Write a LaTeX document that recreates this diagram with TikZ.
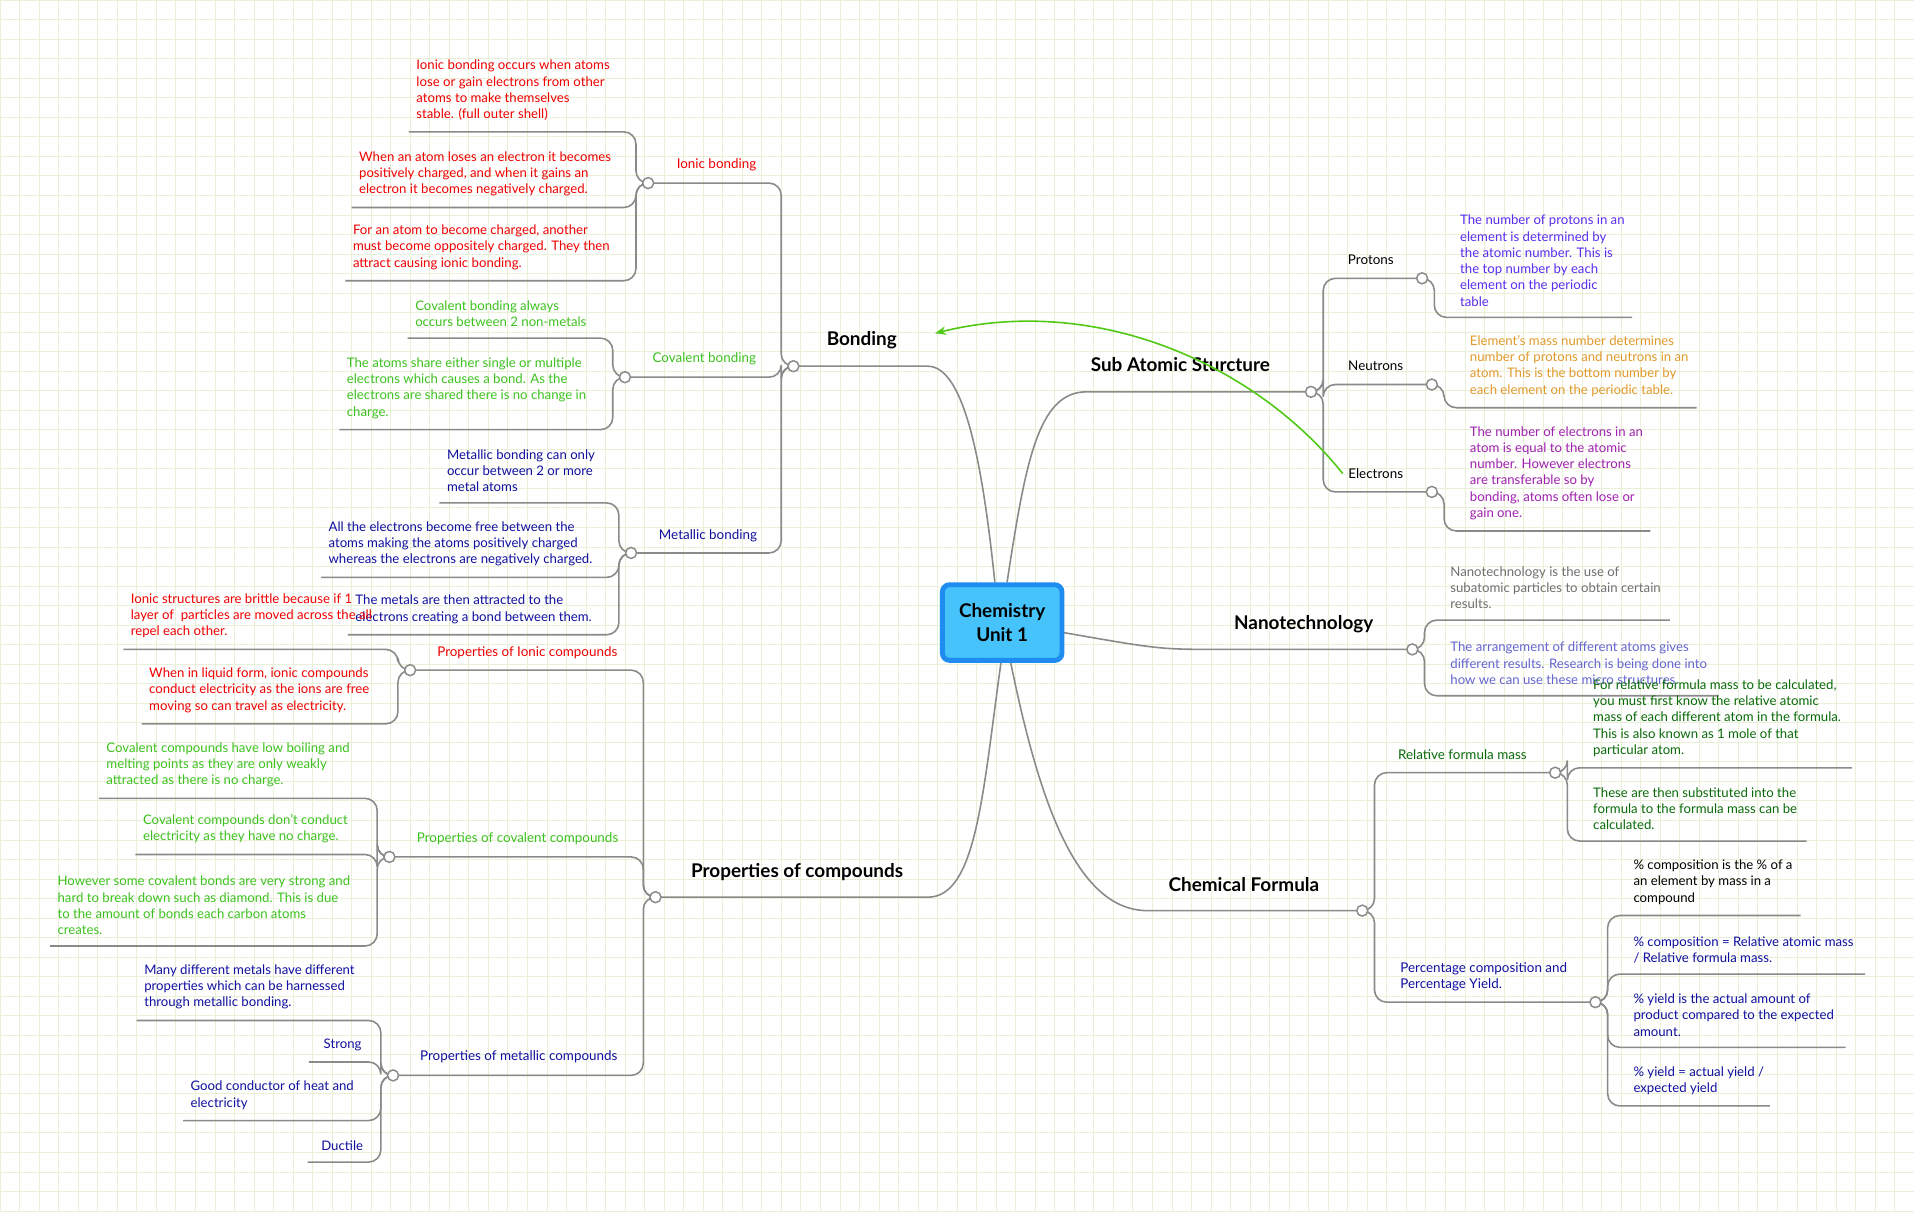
\documentclass[tikz,border=0pt]{standalone}
\usepackage{fontspec}
\setmainfont{Lato}
\usetikzlibrary{arrows.meta}
\definecolor{cred}{HTML}{F00000}
\definecolor{cgreen}{HTML}{3CC21E}
\definecolor{cblue}{HTML}{1010A0}
\definecolor{cdgreen}{HTML}{0A6A0A}
\definecolor{cprot}{HTML}{5A2DF0}
\definecolor{cneut}{HTML}{E09A2A}
\definecolor{celec}{HTML}{A020B0}
\definecolor{cgray}{HTML}{707070}
\definecolor{cslate}{HTML}{6464D2}
\definecolor{lineg}{HTML}{8A8A8A}
\definecolor{gridc}{HTML}{EAF0D8}
\tikzset{
 br/.style={draw=lineg,line width=1.3pt,rounded corners=10pt},
 leaf/.style={font=\fontsize{10.8}{13.3}\selectfont,align=left,inner sep=0pt},
 sub/.style={font=\fontsize{11}{13.3}\selectfont,inner sep=0pt,align=left},
 main/.style={font=\bfseries\fontsize{15.5}{17}\selectfont,inner sep=0pt},
 knob/.style={circle,draw=lineg,fill=white,line width=1.2pt,minimum size=9pt,inner sep=0pt}
}
\newcommand\leafL[6]{%
 \draw[br] (#1,#2) -- (#1-10,#2) -- (#1-10,#3) -- (#4,#3);
 \node[leaf,text=#5,anchor=south west] at (#4+6,#3-9) {#6};}
\newcommand\leafR[6]{%
 \draw[br] (#1,#2) -- (#1+10,#2) -- (#1+10,#3) -- (#4,#3);
 \node[leaf,text=#5,anchor=south west] at (#1+31,#3-9) {#6};}
\newcommand\brL[4]{\draw[br] (#1,#2) -- (#1-10,#2) -- (#1-10,#4) -- (#3,#4);}
\newcommand\brR[4]{\draw[br] (#1,#2) -- (#1+10,#2) -- (#1+10,#4) -- (#3,#4);}
\begin{document}
\begin{tikzpicture}[x=1pt,y=-1pt]
\useasboundingbox (0,0) rectangle (1568,993);
\fill[white] (0,0) rectangle (1568,993);
\foreach \i in {0,16,...,1568} \draw[gridc,line width=0.5pt] (\i,0) -- (\i,993);
\foreach \i in {0,16,...,993} \draw[gridc,line width=0.5pt] (0,\i) -- (1568,\i);

\coordinate (cb) at (650,300);
\coordinate (cs) at (1074,321);
\coordinate (cn) at (1157,532);
\coordinate (cc) at (1116,746);
\coordinate (cp) at (537,735);
\draw[br] (815,477) .. controls (805,380) and (790,300) .. (750,300) -- (cb);
\draw[br] (825,477) .. controls (840,380) and (850,321) .. (900,321) -- (cs);
\draw[br] (870,518) .. controls (950,532) .. (1010,532) -- (cn);
\draw[br] (828,543) .. controls (850,650) and (880,746) .. (950,746) -- (cc);
\draw[br] (820,543) .. controls (805,650) and (800,735) .. (750,735) -- (cp);
\node[main] (lb) at (706,279) {Bonding};
\node[main] (ls) at (967,299) {Sub Atomic Sturcture};
\node[main] (ln) at (1068,511) {Nanotechnology};
\node[main] (lc) at (1019,725) {Chemical Formula};
\node[main] (lp) at (653,714) {Properties of compounds};

\brL{650}{300}{531}{150}
\brL{650}{300}{512}{309}
\brL{650}{300}{517}{453}
\node[sub,text=cred] (ib) at (587,135) {Ionic bonding};
\node[sub,text=cgreen] (cvb) at (577,294) {Covalent bonding};
\node[sub,text=cblue] (mb) at (580,439) {Metallic bonding};
\leafL{531}{150}{108}{335}{cred}{Ionic bonding occurs when atoms\\lose or gain electrons from other\\atoms to make themselves\\stable. (full outer shell)}
\leafL{531}{150}{170}{288}{cred}{When an atom loses an electron it becomes\\positively charged, and when it gains an\\electron it becomes negatively charged.}
\leafL{531}{150}{230}{283}{cred}{For an atom to become charged, another\\must become oppositely charged. They then\\attract causing ionic bonding.}
\leafL{512}{309}{277}{334}{cgreen}{Covalent bonding always\\occurs between 2 non-metals}
\leafL{512}{309}{352}{278}{cgreen}{The atoms share either single or multiple\\electrons which causes a bond. As the\\electrons are shared there is no change in\\charge.}
\leafL{517}{453}{412}{360}{cblue}{Metallic bonding can only\\occur between 2 or more\\metal atoms}
\leafL{517}{453}{473}{263}{cblue}{All the electrons become free between the\\atoms making the atoms positively charged\\whereas the electrons are negatively charged.}
\leafL{517}{453}{520}{285}{cblue}{The metals are then attracted to the\\electrons creating a bond between them.}

\brL{537}{735}{336}{549}
\brL{537}{735}{319}{702}
\brL{537}{735}{322}{881}
\node[sub,text=cred] at (432,535) {Properties of Ionic compounds};
\node[sub,text=cgreen] at (424,687) {Properties of covalent compounds};
\node[sub,text=cblue] at (425,866) {Properties of metallic compounds};
\leafL{336}{549}{532}{101}{cred}{Ionic structures are brittle because if 1\\layer of\ \ particles are moved across the all\\repel each other.}
\leafL{336}{549}{593}{116}{cred}{When in liquid form, ionic compounds\\conduct electricity as the ions are free\\moving so can travel as electricity.}
\leafL{319}{702}{654}{81}{cgreen}{Covalent compounds have low boiling and\\melting points as they are only weakly\\attracted as there is no charge.}
\leafL{319}{702}{700}{111}{cgreen}{Covalent compounds don't conduct\\electricity as they have no charge.}
\leafL{319}{702}{775}{41}{cgreen}{However some covalent bonds are very strong and\\hard to break down such as diamond. This is due\\to the amount of bonds each carbon atoms\\creates.}
\leafL{322}{881}{836}{112}{cblue}{Many different metals have different\\properties which can be harnessed\\through metallic bonding.}
\leafL{322}{881}{870}{253}{cblue}{\hspace*{6pt}Strong}
\leafL{322}{881}{918}{150}{cblue}{Good conductor of heat and\\electricity}
\leafL{322}{881}{952}{252}{cblue}{\hspace*{5pt}Ductile}

\brR{1074}{321}{1165}{228}
\brR{1074}{321}{1173}{315}
\brR{1074}{321}{1173}{403}
\node[sub] at (1123,213) {Protons};
\node[sub] at (1127,300) {Neutrons};
\node[sub] (el) at (1127,388) {Electrons};
\leafR{1165}{228}{260}{1337}{cprot}{The number of protons in an\\element is determined by\\the atomic number. This is\\the top number by each\\element on the periodic\\table}
\leafR{1173}{315}{334}{1390}{cneut}{Element's mass number determines\\number of protons and neutrons in an\\atom. This is the bottom number by\\each element on the periodic table.}
\leafR{1173}{403}{435}{1352}{celec}{The number of electrons in an\\atom is equal to the atomic\\number. However electrons\\are transferable so by\\bonding, atoms often lose or\\gain one.}

\leafR{1157}{532}{508}{1368}{cgray}{Nanotechnology is the use of\\subatomic particles to obtain certain\\results.}
\leafR{1157}{532}{570}{1408}{cslate}{The arrangement of different atoms gives\\different results. Research is being done into\\how we can use these micro structures}

\brR{1116}{746}{1274}{633}
\brR{1116}{746}{1307}{821}
\node[sub,text=cdgreen] at (1198,618) {Relative formula mass};
\node[sub,text=cblue,anchor=west] at (1147,800) {Percentage composition and\\Percentage Yield.};
\leafR{1274}{633}{629}{1517}{cdgreen}{For relative formula mass to be calculated,\\you must first know the relative atomic\\mass of each different atom in the formula.\\This is also known as 1 mole of that\\particular atom.}
\leafR{1274}{633}{689}{1480}{cdgreen}{These are then substituted into the\\formula to the formula mass can be\\calculated.}
\leafR{1307}{821}{750}{1475}{black}{\% composition is the \% of a\\an element by mass in a\\compound}
\leafR{1307}{821}{798}{1528}{cblue}{\% composition = Relative atomic mass\\/ Relative formula mass.}
\leafR{1307}{821}{858}{1512}{cblue}{\% yield is the actual amount of\\product compared to the expected\\amount.}
\leafR{1307}{821}{906}{1450}{cblue}{\% yield = actual yield /\\expected yield}

\foreach \p in {(650,300),(1074,321),(1157,532),(1116,746),(537,735),(531,150),(512,309),(517,453),(336,549),(319,702),(322,881),(1165,228),(1173,315),(1173,403),(1274,633),(1307,821)}
 \node[knob] at \p {};

\node[draw={rgb,255:red,30;green,140;blue,240},line width=4pt,fill={rgb,255:red,70;green,195;blue,250},rounded corners=6pt,minimum width=98pt,minimum height=62pt,align=center,font=\bfseries\fontsize{15.5}{19}\selectfont] (ctr) at (821,510) {Chemistry\\Unit 1};

\coordinate (arrs) at (1100,388);
\coordinate (arre) at (766,273);
\draw[draw={rgb,255:red,80;green,200;blue,20},line width=1.3pt,-{Stealth[length=9pt,width=7pt]}] (arrs) .. controls (1030,300) and (900,240) .. (arre);
\end{tikzpicture}
\end{document}
